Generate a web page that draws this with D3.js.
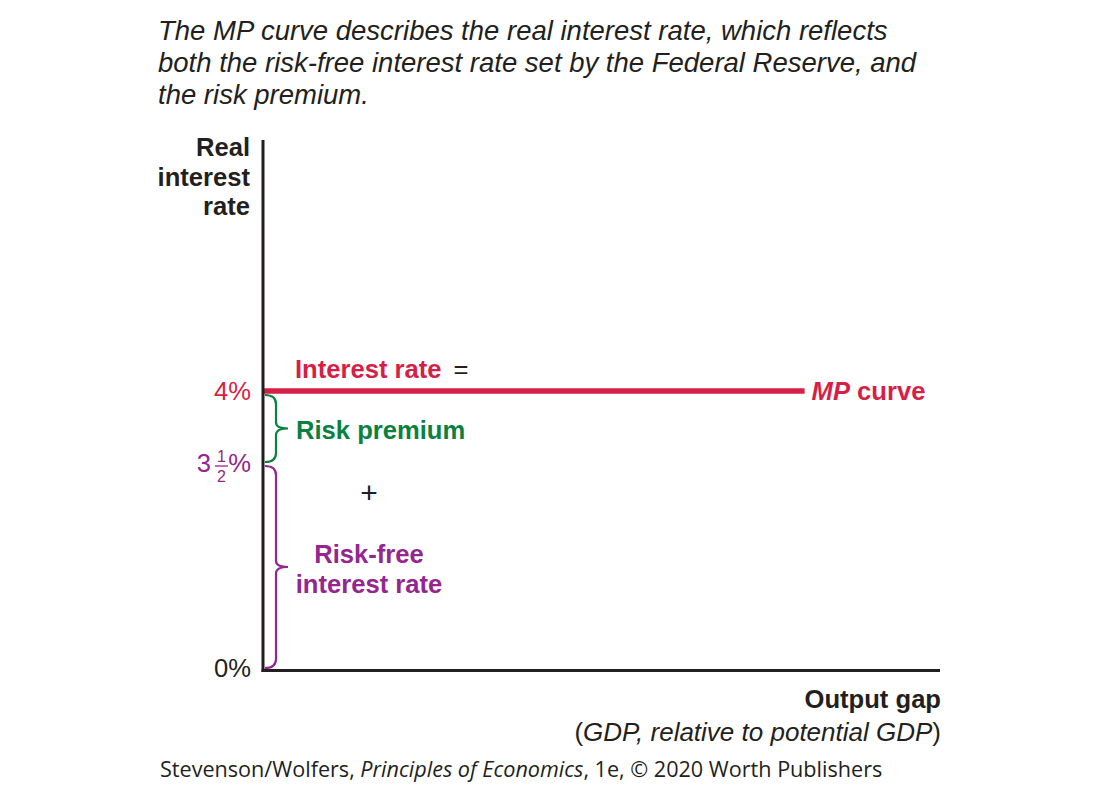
<!DOCTYPE html>
<html><head><meta charset="utf-8">
<script src="https://cdn.jsdelivr.net/npm/d3@7"></script>
<style>
body{margin:0;background:#fff;}
svg{display:block;font-family:"Liberation Sans",Arial,sans-serif;}
</style></head>
<body><svg id="c" width="1100" height="806"></svg>
<script>
// ---- data ----
const titleLines = [
  "The MP curve describes the real interest rate, which reflects",
  "both the risk-free interest rate set by the Federal Reserve, and",
  "the risk premium."
];
const yTitleLines = ["Real", "interest", "rate"];
const yTickValues = [0, 3.5, 4];
const yTickLabels = ["0%", "3½%", "4%"];
const yDomain = [0, 3.5, 4, 6];     // schematic (non-linear) vertical axis
const xDomain = [0, 10];
const mpRate = [4];                  // MP curve level
const mpExtent = [0, 8];             // x extent of the MP curve
const riskFreeRate = [0, 3.5];       // brace span
const riskPremium = [3.5, 4];        // brace span

const RED = "#d61f47", GREEN = "#0b8140", PURPLE = "#93278f", INK = "#231f20";
const FS = 25.6;

const svg = d3.select("#c");
const y = d3.scaleLinear().domain(yDomain).range([668, 463, 391, 140]);
const x = d3.scaleLinear().domain(xDomain).range([263, 940]);

// title
svg.append("text").attr("font-style","italic").attr("font-size",27.5).attr("fill",INK)
  .selectAll("tspan").data(titleLines).join("tspan")
  .attr("x",158).attr("y",(d,i)=>40+i*32).text(d=>d);

// y title
svg.append("text").attr("font-weight","bold").attr("font-size",FS).attr("fill",INK).attr("text-anchor","end")
  .selectAll("tspan").data(yTitleLines).join("tspan")
  .attr("x",250).attr("y",(d,i)=>156+i*29.5).text(d=>d);

// MP curve
svg.append("line").attr("x1",x(mpExtent[0])).attr("x2",x(mpExtent[1]))
  .attr("y1",y(mpRate[0])).attr("y2",y(mpRate[0]))
  .attr("stroke",RED).attr("stroke-width",5.5);

// axes
svg.append("line").attr("x1",x(0)).attr("x2",x(0)).attr("y1",y(yDomain[3])).attr("y2",y(0)+4)
  .attr("stroke",INK).attr("stroke-width",3);
svg.append("line").attr("x1",x(0)-1.5).attr("x2",x(xDomain[1])).attr("y1",y(0)+2.5).attr("y2",y(0)+2.5)
  .attr("stroke",INK).attr("stroke-width",3);

// braces
function brace(y1, y2, color){
  const x0 = x(0)+2, xm = x0+11, xt = x0+23, r = 9;
  const top = Math.min(y1,y2), bot = Math.max(y1,y2), mid = (top+bot)/2;
  const p = d3.path();
  p.moveTo(x0, top);
  p.quadraticCurveTo(xm, top, xm, top+r);
  p.lineTo(xm, mid-r*0.7);
  p.quadraticCurveTo(xm, mid, xt, mid);
  p.quadraticCurveTo(xm, mid, xm, mid+r*0.7);
  p.lineTo(xm, bot-r);
  p.quadraticCurveTo(xm, bot, x0, bot);
  svg.append("path").attr("d",p.toString()).attr("fill","none").attr("stroke",color).attr("stroke-width",2.2);
  return mid;
}
const gMid = brace(y(riskPremium[1])+4, y(riskPremium[0])-1, GREEN);
const pMid = brace(y(riskFreeRate[1])+3, y(riskFreeRate[0]), PURPLE);

// y tick labels
const tickColor = [INK, PURPLE, RED];
yTickValues.forEach((v,i)=>{
  const lab = yTickLabels[i], yy = y(v)+9;
  if (lab.includes("½")) {
    const g = svg.append("g").attr("fill",tickColor[i]).attr("font-size",FS);
    g.append("text").attr("x",211).attr("y",yy).attr("text-anchor","end").text(lab.split("½")[0]);
    g.append("text").attr("x",221.5).attr("y",yy-10).attr("text-anchor","middle").attr("font-size",16).text("1");
    g.append("line").attr("x1",215).attr("x2",228).attr("y1",yy-6).attr("y2",yy-6).attr("stroke",tickColor[i]).attr("stroke-width",1.3);
    g.append("text").attr("x",221.5).attr("y",yy+10).attr("text-anchor","middle").attr("font-size",16).text("2");
    g.append("text").attr("x",251).attr("y",yy).attr("text-anchor","end").text("%");
  } else {
    svg.append("text").attr("x",251).attr("y",yy).attr("text-anchor","end").attr("font-size",FS)
      .attr("fill",tickColor[i]).text(lab);
  }
});

// annotations
const ann = svg.append("text").attr("x",295).attr("y",y(mpRate[0])-13).attr("font-size",FS).attr("font-weight","bold");
ann.append("tspan").attr("fill",RED).text("Interest rate");
ann.append("tspan").attr("fill",INK).attr("font-weight","normal").attr("dx",12).text("=");

svg.append("text").attr("x",296).attr("y",gMid+10).attr("font-size",FS).attr("font-weight","bold")
  .attr("fill",GREEN).text("Risk premium");

svg.append("text").attr("x",369).attr("y",503).attr("font-size",30).attr("text-anchor","middle")
  .attr("fill",INK).text("+");

svg.append("text").attr("font-size",FS).attr("font-weight","bold").attr("fill",PURPLE).attr("text-anchor","middle")
  .selectAll("tspan").data(["Risk-free","interest rate"]).join("tspan")
  .attr("x",369).attr("y",(d,i)=>pMid-4+i*30).text(d=>d);

const mp = svg.append("text").attr("x",x(mpExtent[1])+7).attr("y",y(mpRate[0])+9).attr("font-size",FS)
  .attr("font-weight","bold").attr("fill",RED);
mp.append("tspan").attr("font-style","italic").text("MP");
mp.append("tspan").text(" curve");

// x title
svg.append("text").attr("x",941).attr("y",708).attr("text-anchor","end").attr("font-size",FS)
  .attr("font-weight","bold").attr("fill",INK).text("Output gap");
const xs = svg.append("text").attr("x",941).attr("y",741).attr("text-anchor","end").attr("font-size",26).attr("fill",INK);
xs.append("tspan").text("(");
xs.append("tspan").attr("font-style","italic").text("GDP, relative to potential GDP");
xs.append("tspan").text(")");

// credit
const cr = svg.append("text").attr("x",160).attr("y",777).attr("font-size",21.6).attr("fill",INK)
  .attr("font-family","'Open Sans',sans-serif");
cr.append("tspan").text("Stevenson/Wolfers, ");
cr.append("tspan").attr("font-style","italic").text("Principles of Economics");
cr.append("tspan").text(", 1e, © 2020 Worth Publishers");
</script></body></html>
